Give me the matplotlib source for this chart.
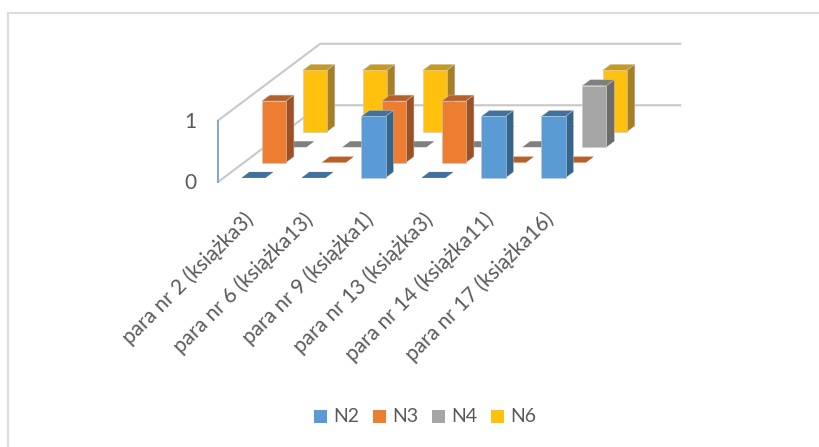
import matplotlib
matplotlib.use('Agg')
import matplotlib.pyplot as plt
from matplotlib.patches import Polygon, Rectangle

categories = ['para nr 2 (książka3)', 'para nr 6 (książka13)', 'para nr 9 (książka1)',
              'para nr 13 (książka3)', 'para nr 14 (książka11)', 'para nr 17 (książka16)']
series_names = ['N2', 'N3', 'N4', 'N6']
n2 = [0, 0, 1, 0, 1, 1]
n3 = [1, 0, 1, 1, 0, 0]
n4 = [0, 0, 0, 0, 0, 1]
n6 = [1, 1, 1, 0, 0, 1]
series_values = [n2, n3, n4, n6]
y_ticks = [0, 1]

# (front, side, top) shades for each series
shades = [('#5B9BD5', '#34658C', '#41719C'),
          ('#ED7D31', '#9C5023', '#B8602A'),
          ('#A5A5A5', '#6C6C6C', '#808080'),
          ('#FFC10E', '#A67E28', '#C49A26')]

plt.rcParams['font.family'] = ['Lato', 'DejaVu Sans']
text_color = '#595959'

fig = plt.figure(figsize=(8.2, 4.47), dpi=100)
ax = fig.add_axes([0, 0, 1, 1])
ax.set_xlim(0, 820)
ax.set_ylim(447, 0)
ax.axis('off')

# oblique projection of the 3D box: category, depth slot, value -> pixels
X0, Y0 = 218, 182
CAT_W, DEPTH_X, DEPTH_Y, VAL_H = 60, 20.45, 15.35, 61.5
N_DEPTH = 5


def proj(c, d, v=0):
    return X0 + CAT_W * c + DEPTH_X * d, Y0 - DEPTH_Y * d - VAL_H * v


# chart frame, only the top and left edges show
ax.plot([8.5, 8.5, 820], [447, 13, 13], color='#DDDDDD', lw=1.6, solid_joinstyle='miter')

# walls
wall = '#C8C8C8'
for v in y_ticks:
    ax.plot(*zip(proj(0, 0, v), proj(0, N_DEPTH, v), proj(6, N_DEPTH, v)), color=wall, lw=1.5, zorder=1)
ax.plot(*zip(proj(0, 0, 0), proj(0, 0, 1)), color='#7FA8D0', lw=1.4, zorder=1)

BAR_W = 24.2 / CAT_W
BAR_D = 0.39
for s in range(len(series_values) - 1, -1, -1):
    front, side, top = shades[s]
    d0 = s + (1 - BAR_D) / 2 - 0.04
    d1 = d0 + BAR_D
    for i, v in enumerate(series_values[s]):
        c0 = i + (1 - BAR_W) / 2
        c1 = c0 + BAR_W
        if v == 0:
            ax.add_patch(Polygon([proj(c0, d0), proj(c1, d0), proj(c1, d1), proj(c0, d1)],
                                 fc=top, ec='none', zorder=2))
            continue
        ax.add_patch(Polygon([proj(c0, d0, v), proj(c1, d0, v), proj(c1, d1, v), proj(c0, d1, v)],
                             fc=top, ec='#C9C9C9', lw=0.3, zorder=2))
        ax.add_patch(Polygon([proj(c1, d0), proj(c1, d1), proj(c1, d1, v), proj(c1, d0, v)],
                             fc=side, ec='#C9C9C9', lw=0.3, zorder=2))
        ax.add_patch(Polygon([proj(c0, d0), proj(c1, d0), proj(c1, d0, v), proj(c0, d0, v)],
                             fc=front, ec='#C9C9C9', lw=0.4, zorder=2))

for v in y_ticks:
    x, y = proj(0, 0, v)
    ax.text(x - 28, y + 1, str(v), ha='center', va='center', fontsize=15, color=text_color)

for i, name in enumerate(categories):
    x, y = proj(i + 0.5, 0)
    ax.text(x - 5, y + 27, name, rotation=45, rotation_mode='anchor', ha='right', va='top',
            fontsize=15, color=text_color)

# legend
legend_x = [314, 373, 432, 491]
for name, shade, x in zip(series_names, shades, legend_x):
    ax.add_patch(Rectangle((x, 410), 13, 13, fc=shade[0], ec='none'))
    ax.text(x + 19, 416.5, name, ha='left', va='center', fontsize=14, color=text_color)

fig.savefig('out.png', dpi=100)
